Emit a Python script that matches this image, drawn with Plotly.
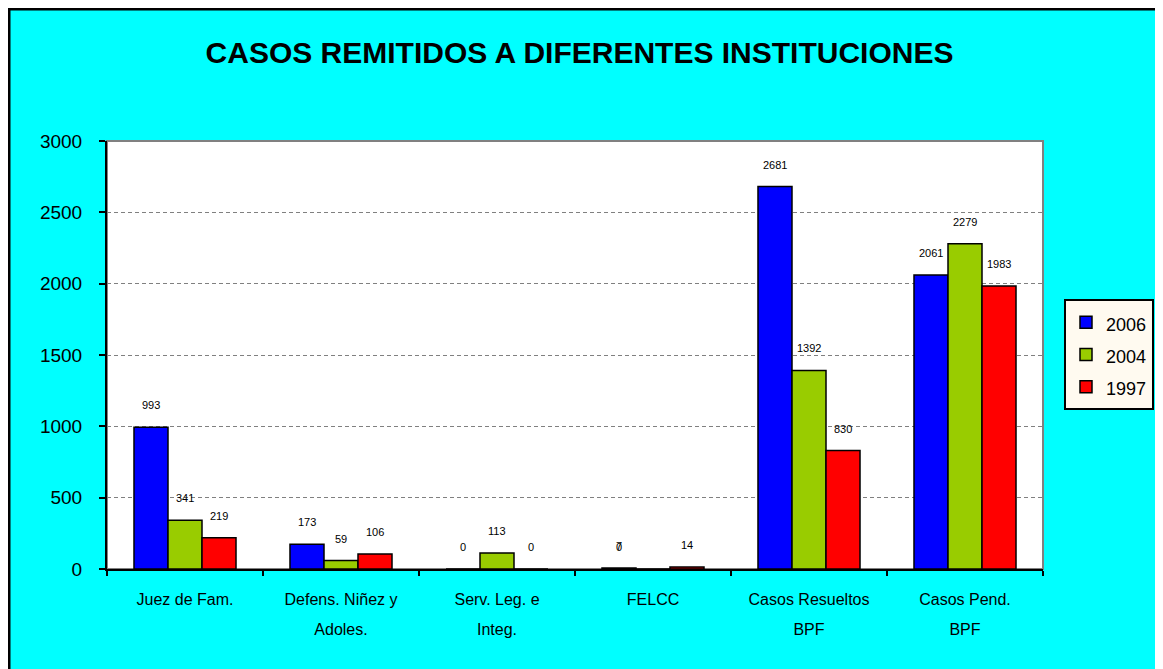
import plotly.graph_objects as go

categories = ["Juez de Fam.", "Defens. Niñez y<br>Adoles.", "Serv. Leg. e<br>Integ.", "FELCC",
              "Casos Resueltos<br>BPF", "Casos Pend.<br>BPF"]
series_names = ["2006", "2004", "1997"]
v2006 = [993, 173, 0, 7, 2681, 2061]
v2004 = [341, 59, 113, 0, 1392, 2279]
v1997 = [219, 106, 0, 14, 830, 1983]
labels2006 = ["993", "173", "0", "7", "2681", "2061"]
labels2004 = ["341", "59", "113", "", "1392", "2279"]
labels1997 = ["219", "106", "0", "14", "830", "1983"]
colors = ["#0000FF", "#99CC00", "#FF0000"]

# page body has an 8px margin; figure coords = screen coords - 8
OFF = 8
W, H = 1155, 661
L, R, T, B = 99, 120, 133, 100
pw, ph = W - L - R, H - T - B

def px2paper_x(sx):
    return (sx - OFF - L) / pw

def px2paper_y(sy):
    return (H - B - (sy - OFF)) / ph

fig = go.Figure()
all_vals = [v2006, v2004, v1997]
all_labels = [labels2006, labels2004, labels1997]
for name, vals, col in zip(series_names, all_vals, colors):
    fig.add_trace(go.Bar(x=categories, y=vals,
                         name="<span style='font-size:18px'>" + name + "</span>",
                         marker=dict(color=col, line=dict(color="black", width=1.5))))

shifts = [-34, 0, 34]
lab_font = dict(size=11, color="black", family="Liberation Sans, Arial")
annotations = []
for vals, labs, sh in zip(all_vals, all_labels, shifts):
    for c, v, t in zip(categories, vals, labs):
        if t == "":
            continue
        annotations.append(dict(x=c, y=v, text=t, showarrow=False, xshift=sh, yshift=22, font=lab_font))
# overlapping zero label at FELCC (as in reference)
annotations.append(dict(x="FELCC", y=0, text="0", showarrow=False, xshift=-34, yshift=22, font=lab_font))

ticktext = ["<br>".join("<span style='font-size:16px'>" + part + "</span>" for part in c.split("<br>"))
            for c in categories]

shapes = [
    dict(type="rect", xref="paper", yref="paper", layer="below",
         x0=px2paper_x(9), x1=px2paper_x(1160), y0=px2paper_y(9), y1=px2paper_y(680),
         fillcolor="#00FFFF", line=dict(color="black", width=3)),
    dict(type="rect", xref="paper", yref="paper", layer="below",
         x0=0, x1=1, y0=0, y1=1, fillcolor="white", line=dict(color="#808080", width=2)),
]

fig.update_layout(
    width=W, height=H,
    margin=dict(l=L, r=R, t=T, b=B),
    paper_bgcolor="white", plot_bgcolor="white",
    font=dict(family="Liberation Sans, Arial", color="black"),
    title=dict(text="<b>CASOS REMITIDOS A DIFERENTES INSTITUCIONES</b>",
               x=571.5 / W, xanchor="center", y=1 - 44 / H, yanchor="middle", yref="container",
               font=dict(size=30, family="Liberation Sans, Arial", color="black")),
    barmode="group", bargap=0.346, bargroupgap=0,
    legend=dict(xref="container", yref="container",
                x=(1064 - OFF) / W, y=1 - (299 - OFF) / H, xanchor="left", yanchor="top",
                bgcolor="#FFFAF0", bordercolor="black", borderwidth=2,
                font=dict(size=22.5, family="Liberation Sans, Arial")),
    annotations=annotations,
    shapes=shapes,
    xaxis=dict(showline=True, linecolor="black", linewidth=2, ticks="outside", tickson="boundaries",
               ticklen=5, tickcolor="black", tickwidth=2, showgrid=False,
               tickmode="array", tickvals=categories, ticktext=ticktext,
               tickfont=dict(size=23), ticklabelstandoff=6),
    yaxis=dict(range=[0, 3000], dtick=500, showline=True, linecolor="black", linewidth=2,
               ticks="outside", ticklen=6, tickcolor="black", tickwidth=2,
               showgrid=True, gridcolor="#808080", griddash="4px,3px", gridwidth=1,
               zeroline=False, tickfont=dict(size=19), ticklabelstandoff=13),
)

fig.write_html("out.html")
